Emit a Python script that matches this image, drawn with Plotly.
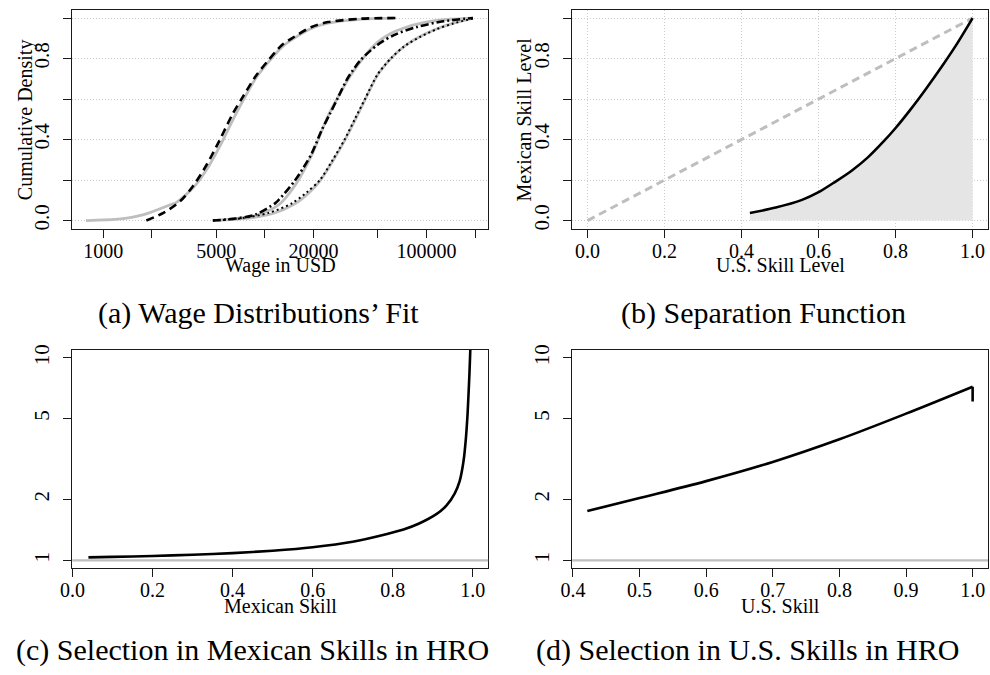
import plotly.graph_objects as go

W, H = 990, 675
FONT = "Liberation Serif, Times New Roman, serif"
GRAY = "#BEBEBE"
GRID = "#CDCDCD"
BOX = "#1a1a1a"

# ---------------- Panel (a): wage distributions (USD, cumulative density)
MEX_EMP_WAGE = [783, 1280, 1780, 2600, 2845, 3631, 4467, 5370, 6457, 7413, 8913, 10715, 12882, 14791, 19498, 24547, 39811, 63096]
MEX_EMP_CDF = [0.0, 0.008, 0.029, 0.078, 0.09, 0.165, 0.265, 0.38, 0.51, 0.60, 0.71, 0.79, 0.86, 0.895, 0.95, 0.975, 0.995, 1.0]
MEX_FIT_WAGE = [1850, 2360, 2990, 3600, 4350, 5240, 6310, 7260, 8770, 10570, 12760, 14690, 19450, 24600, 39300, 64300]
MEX_FIT_CDF = [0.0, 0.038, 0.095, 0.171, 0.273, 0.395, 0.525, 0.607, 0.712, 0.794, 0.867, 0.90, 0.956, 0.98, 0.997, 1.0]

MIG_EMP_WAGE = [4770, 6607, 8770, 12190, 15420, 19450, 24600, 28970, 34120, 41210, 49660, 59980, 72440, 95940, 139300, 193600]
MIG_EMP_CDF = [0.0, 0.01, 0.025, 0.078, 0.176, 0.322, 0.517, 0.623, 0.72, 0.81, 0.88, 0.924, 0.951, 0.977, 0.994, 1.0]
MIG_FIT_WAGE = [4770, 6620, 8770, 11610, 12190, 15420, 19450, 22390, 25180, 28310, 32580, 39260, 49660, 62810, 87300, 127060, 193600]
MIG_FIT_CDF = [0.0, 0.01, 0.03, 0.086, 0.102, 0.2, 0.33, 0.444, 0.525, 0.607, 0.704, 0.794, 0.867, 0.916, 0.956, 0.984, 1.0]

US_EMP_WAGE = [4770, 7940, 11220, 15140, 18620, 22130, 26610, 31400, 36310, 41880, 49890, 60260, 72780, 91830, 116100, 146900, 193600]
US_EMP_CDF = [0.0, 0.012, 0.035, 0.08, 0.135, 0.2, 0.3, 0.4, 0.5, 0.6, 0.72, 0.8, 0.86, 0.91, 0.947, 0.975, 1.0]
US_FIT_WAGE = [4770, 7260, 10570, 14690, 18200, 21880, 26300, 31120, 35970, 41590, 49660, 59980, 72440, 91410, 115600, 146200, 193600]
US_FIT_CDF = [0.0, 0.012, 0.038, 0.085, 0.14, 0.2, 0.3, 0.4, 0.5, 0.6, 0.72, 0.8, 0.859, 0.907, 0.945, 0.973, 0.998]

A_XTICKS = [1000, 2000, 5000, 10000, 20000, 50000, 100000, 200000]
A_XLABELS = ["1000", "", "5000", "", "20000", "", "100000", ""]
A_XGRID = [1000, 10000, 100000]
A_XRANGE_LOG = [2.809, 5.381]
PROB_TICKS = [0.0, 0.2, 0.4, 0.6, 0.8, 1.0]
PROB_LABELS = ["0.0", "", "0.4", "", "0.8", ""]
PROB_RANGE = [-0.04, 1.04]

# ---------------- Panel (b): separation function
SEP_US = [0.4216, 0.489, 0.557, 0.6, 0.642, 0.685, 0.728, 0.77, 0.80, 0.839, 0.881, 0.924, 0.958, 1.0]
SEP_MX = [0.037, 0.064, 0.102, 0.14, 0.19, 0.245, 0.312, 0.393, 0.457, 0.549, 0.656, 0.772, 0.869, 1.0]
DIAG = [0.0, 1.0]
B_XTICKS = [0.0, 0.2, 0.4, 0.6, 0.8, 1.0]
B_XLABELS = ["0.0", "0.2", "0.4", "0.6", "0.8", "1.0"]

# ---------------- Panel (c): selection in Mexican skills
MX_SKILL = [0.04, 0.1, 0.2, 0.3, 0.4, 0.5, 0.6, 0.7, 0.786, 0.827, 0.866, 0.909, 0.934, 0.955, 0.967, 0.977, 0.983, 0.987, 0.9895, 0.9916, 0.9935, 0.995]
SEL_MX = [1.034, 1.04, 1.05, 1.065, 1.085, 1.115, 1.16, 1.235, 1.35, 1.42, 1.52, 1.69, 1.86, 2.14, 2.45, 3.1, 4.05, 5.3, 6.7, 8.3, 10.5, 13.0]
C_XTICKS = [0.0, 0.2, 0.4, 0.6, 0.8, 1.0]
C_XLABELS = ["0.0", "0.2", "0.4", "0.6", "0.8", "1.0"]
C_XRANGE = [-0.0004, 1.0384]
C_XGRID = [0.2090, 0.4163, 0.6237, 0.8310]

# ---------------- Panel (d): selection in U.S. skills
US_SKILL = [0.4216, 0.5, 0.6, 0.7, 0.8, 0.9, 1.0, 1.0]
SEL_US = [1.75, 2.03, 2.46, 3.06, 3.96, 5.3, 7.2, 6.08]
D_XTICKS = [0.4, 0.5, 0.6, 0.7, 0.8, 0.9, 1.0]
D_XLABELS = ["0.4", "0.5", "0.6", "0.7", "0.8", "0.9", "1.0"]
D_XRANGE = [0.3988, 1.0231]
D_XGRID = [0.5237, 0.6485, 0.7734, 0.8983]

SEL_YTICKS = [1, 2, 5, 10]
SEL_YLABELS = ["1", "2", "5", "10"]
SEL_YRANGE_LOG = [-0.04, 1.04]
SEL_YGRID = [1.4997, 2.466, 4.055, 6.668]
REF_LEVEL = 1

CAPTIONS = ["(a) Wage Distributions’ Fit", "(b) Separation Function",
            "(c) Selection in Mexican Skills in HRO", "(d) Selection in U.S. Skills in HRO"]


def dx(l, r):
    return [l / W, r / W]


def dy(t, b):
    return [1 - b / H, 1 - t / H]


fig = go.Figure()

# (a)
for xs, ys in [(MEX_EMP_WAGE, MEX_EMP_CDF), (MIG_EMP_WAGE, MIG_EMP_CDF), (US_EMP_WAGE, US_EMP_CDF)]:
    fig.add_trace(go.Scatter(x=xs, y=ys, mode="lines", xaxis="x", yaxis="y",
                             line=dict(color=GRAY, width=2.8, shape="spline", smoothing=0.8)))
fig.add_trace(go.Scatter(x=MEX_FIT_WAGE, y=MEX_FIT_CDF, mode="lines", xaxis="x", yaxis="y",
                         line=dict(color="black", width=2.6, dash="8px,5px", shape="spline", smoothing=0.8)))
fig.add_trace(go.Scatter(x=MIG_FIT_WAGE, y=MIG_FIT_CDF, mode="lines", xaxis="x", yaxis="y",
                         line=dict(color="black", width=2.6, dash="8px,3px,2px,3px", shape="spline", smoothing=0.8)))
fig.add_trace(go.Scatter(x=US_FIT_WAGE, y=US_FIT_CDF, mode="lines", xaxis="x", yaxis="y",
                         line=dict(color="black", width=2.0, dash="2px,3px", shape="spline", smoothing=0.8)))

# (b)
fig.add_trace(go.Scatter(x=SEP_US, y=SEP_MX, mode="lines", xaxis="x2", yaxis="y2", fill="tozeroy",
                         fillcolor="#E5E5E5", line=dict(color="rgba(0,0,0,0)", width=0, shape="spline", smoothing=0.8)))
fig.add_trace(go.Scatter(x=DIAG, y=DIAG, mode="lines", xaxis="x2", yaxis="y2",
                         line=dict(color=GRAY, width=3, dash="8px,5px")))
fig.add_trace(go.Scatter(x=SEP_US, y=SEP_MX, mode="lines", xaxis="x2", yaxis="y2",
                         line=dict(color="black", width=2.6, shape="spline", smoothing=0.8)))

# (c)
fig.add_trace(go.Scatter(x=MX_SKILL, y=SEL_MX, mode="lines", xaxis="x3", yaxis="y3",
                         line=dict(color="black", width=2.6, shape="spline", smoothing=0.6)))
# (d): smooth part, then the final vertical drop
fig.add_trace(go.Scatter(x=US_SKILL[:-1], y=SEL_US[:-1], mode="lines", xaxis="x4", yaxis="y4",
                         line=dict(color="black", width=2.6, shape="spline", smoothing=1.0)))
fig.add_trace(go.Scatter(x=US_SKILL[-2:], y=SEL_US[-2:], mode="lines", xaxis="x4", yaxis="y4",
                         line=dict(color="black", width=2.6)))

tickfont = dict(family=FONT, size=20, color="black")
ytickfont = dict(family=FONT, size=21, color="black")
base = dict(showline=True, mirror=True, linecolor=BOX, linewidth=1, ticks="outside", ticklen=8,
            tickwidth=1, tickcolor=BOX, showgrid=False, zeroline=False, tickfont=tickfont,
            tickmode="array", fixedrange=True)
xbase = dict(base, ticklabelstandoff=-4)
ybase = dict(base, tickfont=ytickfont, tickangle=-90, ticklabelstandoff=6)
gridstyle = dict(gridcolor=GRID, griddash="1px,2px", gridwidth=1)
gridonly = dict(showgrid=True, showticklabels=False, ticks="", showline=False, zeroline=False,
                tickmode="array", **gridstyle)

DOM_X_L = dx(61, 482)
DOM_X_R = dx(567, 988)
DOM_Y_T = dy(5, 226)
DOM_Y_B = dy(348.3, 569.3)

layout = dict(
    width=W, height=H, margin=dict(l=0, r=0, t=0, b=0), autosize=False,
    paper_bgcolor="white", plot_bgcolor="white", showlegend=False,
    xaxis=dict(xbase, domain=DOM_X_L, anchor="y", type="log", range=A_XRANGE_LOG,
               tickvals=A_XTICKS, ticktext=A_XLABELS),
    yaxis=dict(ybase, domain=DOM_Y_T, anchor="x", range=PROB_RANGE, tickvals=PROB_TICKS,
               ticktext=PROB_LABELS, showgrid=True, **gridstyle),
    xaxis2=dict(xbase, domain=DOM_X_R, anchor="y2", range=PROB_RANGE, tickvals=B_XTICKS,
                ticktext=B_XLABELS, showgrid=True, **gridstyle),
    yaxis2=dict(ybase, domain=DOM_Y_T, anchor="x2", range=PROB_RANGE, tickvals=PROB_TICKS,
                ticktext=PROB_LABELS, showgrid=True, **gridstyle),
    xaxis3=dict(xbase, domain=DOM_X_L, anchor="y3", range=C_XRANGE, tickvals=C_XTICKS, ticktext=C_XLABELS),
    yaxis3=dict(ybase, domain=DOM_Y_B, anchor="x3", type="log", range=SEL_YRANGE_LOG,
                tickvals=SEL_YTICKS, ticktext=SEL_YLABELS),
    xaxis4=dict(xbase, domain=DOM_X_R, anchor="y4", range=D_XRANGE, tickvals=D_XTICKS, ticktext=D_XLABELS),
    yaxis4=dict(ybase, domain=DOM_Y_B, anchor="x4", type="log", range=SEL_YRANGE_LOG,
                tickvals=SEL_YTICKS, ticktext=SEL_YLABELS),
    # grid-only overlay axes
    xaxis5=dict(gridonly, overlaying="x", anchor="y", type="log", range=A_XRANGE_LOG, tickvals=A_XGRID),
    xaxis6=dict(gridonly, overlaying="x3", anchor="y3", range=C_XRANGE, tickvals=C_XGRID),
    yaxis6=dict(gridonly, overlaying="y3", anchor="x3", type="log", range=SEL_YRANGE_LOG, tickvals=SEL_YGRID),
    xaxis7=dict(gridonly, overlaying="x4", anchor="y4", range=D_XRANGE, tickvals=D_XGRID),
    yaxis7=dict(gridonly, overlaying="y4", anchor="x4", type="log", range=SEL_YRANGE_LOG, tickvals=SEL_YGRID),
)
fig.update_layout(**layout)

# reference level lines at 1 in (c) and (d)
for xr, yr in [("x3", "y3"), ("x4", "y4")]:
    fig.add_shape(type="line", xref=xr + " domain", yref=yr, x0=0, x1=1, y0=REF_LEVEL, y1=REF_LEVEL,
                  line=dict(color=GRAY, width=2.2), layer="above")

titlefont = dict(family=FONT, size=20, color="black")


def ann(text, x, y, angle=0, font=titlefont):
    fig.add_annotation(text=text, x=x / W, y=1 - y / H, xref="paper", yref="paper", showarrow=False,
                       xanchor="center", yanchor="middle", textangle=angle, font=font)


ann("Wage in USD", 271.5, 263)
ann("U.S. Skill Level", 777.5, 263)
ann("Mexican Skill", 271.5, 607)
ann("U.S. Skill", 777.5, 607)
ann("Cumulative Density", 13, 115.5, angle=-90)
ann("Mexican Skill Level", 518.5, 115.5, angle=-90)

capfont = dict(family=FONT, size=30, color="black")
ann(CAPTIONS[0], 250, 311, font=capfont)
ann(CAPTIONS[1], 760.5, 311, font=capfont)
ann(CAPTIONS[2], 243, 652, font=capfont)
ann(CAPTIONS[3], 744.5, 652, font=capfont)

fig.write_html("out.html")
